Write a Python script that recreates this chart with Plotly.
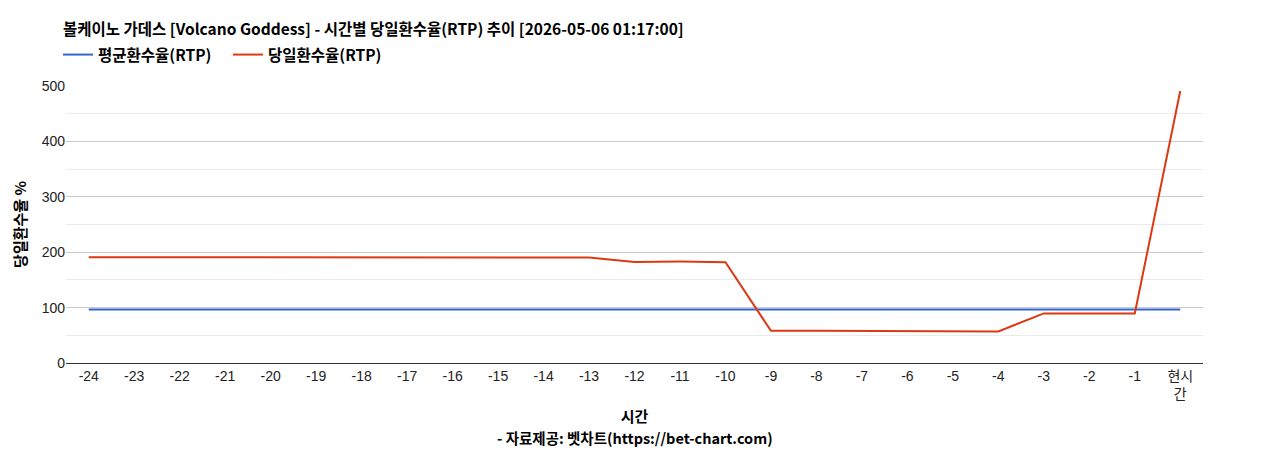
import plotly.graph_objects as go

# 시간 카테고리
시간 = [str(h) for h in range(-24, 0)] + ['현시<br>간']

평균환수율 = [96.5] * 25
당일환수율 = [191, 191, 191, 191, 191, 191, 190, 190.5, 190.5, 190.5, 190.5, 190.5,
          182.5, 183, 182, 58, 58, 58, 58, 58, 57, 89.5, 89.5, 89.5, 491]

폰트 = "Arial, Liberation Sans, Noto Sans CJK KR"
굵은폰트 = "Noto Sans CJK KR"

fig = go.Figure()
fig.add_trace(go.Scatter(x=시간, y=평균환수율, mode='lines', name='<b>평균환수율(RTP)</b>',
                         line=dict(color='#3366cc', width=2)))
fig.add_trace(go.Scatter(x=시간, y=당일환수율, mode='lines', name='<b>당일환수율(RTP)</b>',
                         line=dict(color='#dc3912', width=2)))

# 페이지 여백(8px)을 감안한 마진
fig.update_layout(
    width=1268, height=450,
    paper_bgcolor='white', plot_bgcolor='white',
    margin=dict(l=55, r=73, t=78, b=95),
    font=dict(family=폰트, size=14, color='#222222'),
    title=dict(text='<b>볼케이노 가데스 [Volcano Goddess] - 시간별 당일환수율(RTP) 추이 [2026-05-06 01:17:00]</b>',
               x=55 / 1268, xanchor='left', xref='container', y=1 - 22 / 450, yanchor='middle',
               font=dict(family=굵은폰트, size=15.5, color='#000000')),
    legend=dict(orientation='h', x=-8 / 1140, xanchor='left', y=1 + 31 / 277, yanchor='middle',
                font=dict(family=굵은폰트, size=15.5, color='#000000'),
                itemwidth=30, tracegroupgap=0, bgcolor='rgba(0,0,0,0)',
                entrywidth=125, entrywidthmode='pixels'),
    showlegend=True,
    hovermode='x',
)

fig.update_xaxes(
    type='category', range=[-0.5, 24.5], showgrid=False, showline=True,
    linecolor='#333333', linewidth=1,
    ticks='', tickfont=dict(size=14, color='#222222'),
    title=dict(text='<b>시간</b>',
               font=dict(family=굵은폰트, size=15, color='#000000'), standoff=10),
)
fig.update_yaxes(
    range=[0, 500], dtick=100, showgrid=True, gridcolor='#cccccc', gridwidth=1,
    minor=dict(dtick=50, showgrid=True, gridcolor='#ebebeb', gridwidth=1),
    zeroline=False, showline=False, ticks='', tickfont=dict(size=14, color='#222222'),
    title=dict(text='<b>당일환수율 %</b>',
               font=dict(family=굵은폰트, size=15, color='#000000'), standoff=11),
)

fig.add_annotation(text='<b>- 자료제공: 벳차트(https://bet-chart.com)</b>',
                   xref='paper', yref='paper', x=0.5, y=-(437 - 363) / 277,
                   xanchor='center', yanchor='middle', showarrow=False,
                   font=dict(family=굵은폰트, size=14.5, color='#000000'))

fig.write_html("out.html")
